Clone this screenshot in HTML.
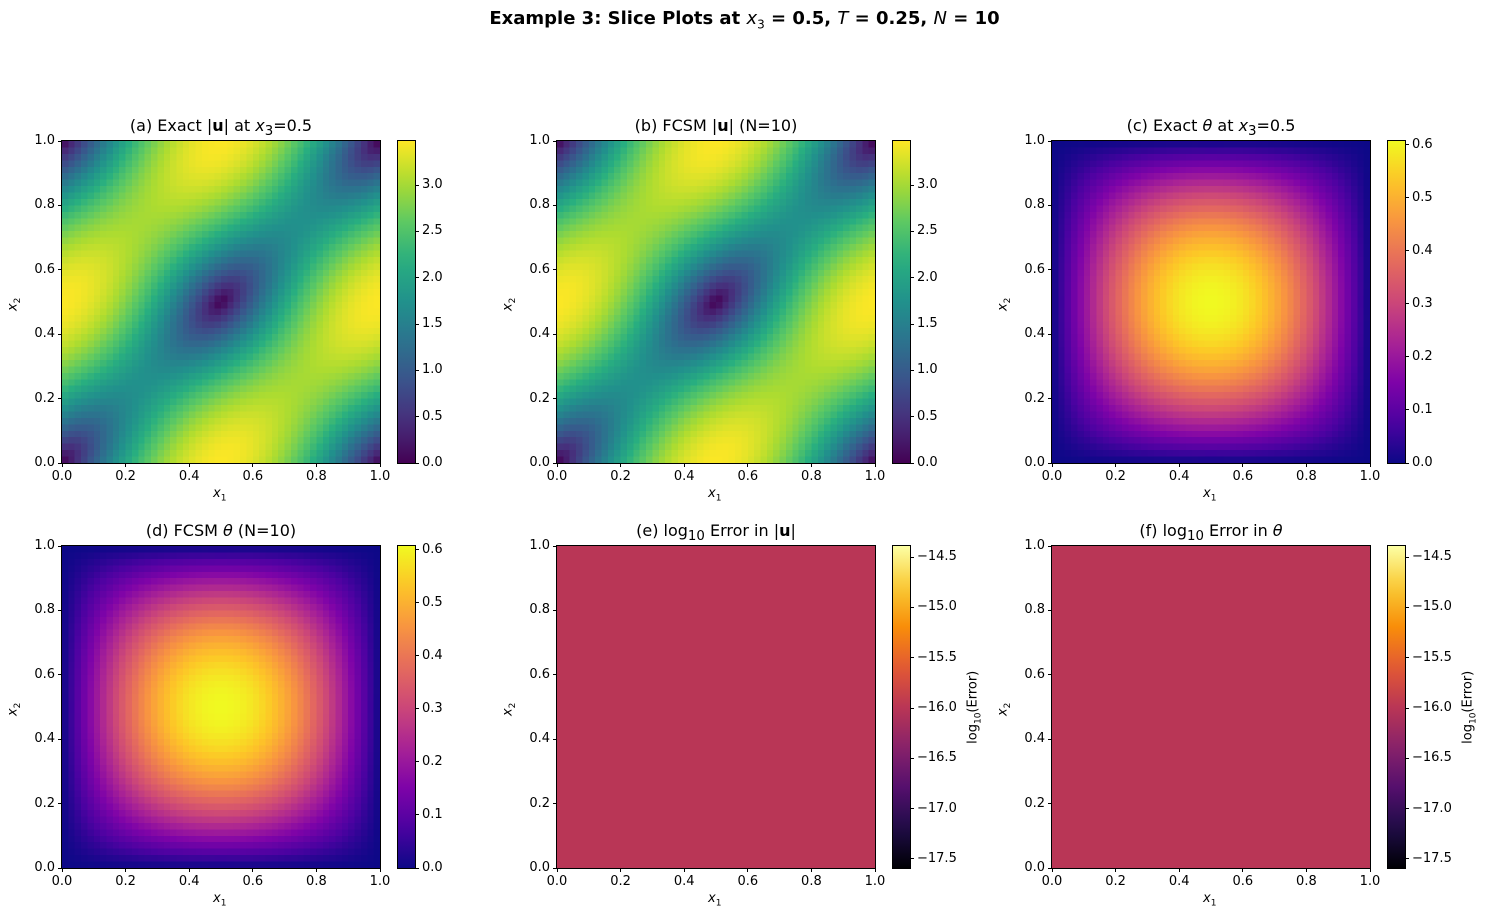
<!DOCTYPE html>
<html><head><meta charset="utf-8"><style>
body{margin:0;width:1489px;height:922px;background:#fff;position:relative;overflow:hidden;font-family:"DejaVu Sans","Liberation Sans",sans-serif;color:#000}
.a{position:absolute;white-space:nowrap;font-size:13px;line-height:1}
canvas{position:absolute;image-rendering:pixelated}
.box{position:absolute;border:1px solid #000;box-sizing:border-box}
.t{position:absolute;background:#000}
.ttl{position:absolute;font-size:16px;white-space:nowrap;transform:translateX(-50%);line-height:1}
</style></head><body>
<div class="a" style="left:0;width:1489px;text-align:center;top:10px;font-size:18px;font-weight:bold">Example 3: Slice Plots at <i style="font-weight:normal">x</i><sub style="font-size:12px;font-weight:normal">3</sub> = 0.5, <i style="font-weight:normal">T</i> = 0.25, <i style="font-weight:normal">N</i> = 10</div>
<div id="root"></div>
<script>
const V=['#440154','#472d7b','#3b528b','#2c728e','#21918c','#28ae80','#5ec962','#addc30','#fde725'];
const P=['#0d0887','#4c02a1','#7e03a8','#a92395','#cc4778','#e56b5d','#f89540','#fdc527','#f0f921'];
const I=['#000004','#1f0c48','#550f6d','#88226a','#ba3655','#e35933','#f98e09','#f9cb35','#fcffa4'];
function hx(h){return [1,3,5].map(i=>parseInt(h.substr(i,2),16));}
function cm(s,f){f=Math.max(0,Math.min(1,f));const n=s.length-1,p=f*n,i=Math.min(n-1,Math.floor(p)),t=p-i;const a=hx(s[i]),b=hx(s[i+1]);return a.map((v,k)=>Math.round(v+(b[k]-v)*t));}
const S=Math.sin,PI=Math.PI;
function uf(x,y){return Math.sqrt(6*(S(PI*x)**2*Math.cos(PI*y)**2+Math.cos(PI*x)**2*S(PI*y)**2)+6*S(PI*(x-y))**2);}
function th(x,y){return 0.607*S(PI*x)*S(PI*y);}
const root=document.getElementById('root');
function add(html){root.insertAdjacentHTML('beforeend',html);}
const W=318,H=322;
const panels=[
 {L:62,T:141,f:uf,c:V,lo:0,hi:3.477,ticks:[0,0.5,1,1.5,2,2.5,3],title:'(a) Exact |<b>u</b>| at <i>x</i><sub>3</sub>=0.5'},
 {L:557,T:141,f:uf,c:V,lo:0,hi:3.477,ticks:[0,0.5,1,1.5,2,2.5,3],title:'(b) FCSM |<b>u</b>| (N=10)'},
 {L:1052,T:141,f:th,c:P,lo:0,hi:0.607,ticks:[0,0.1,0.2,0.3,0.4,0.5,0.6],title:'(c) Exact <i>θ</i> at <i>x</i><sub>3</sub>=0.5'},
 {L:62,T:546,f:th,c:P,lo:0,hi:0.607,ticks:[0,0.1,0.2,0.3,0.4,0.5,0.6],title:'(d) FCSM <i>θ</i> (N=10)'},
 {L:557,T:546,f:()=>-16,c:I,lo:-17.59,hi:-14.39,ticks:[-17.5,-17,-16.5,-16,-15.5,-15,-14.5],title:'(e) log<sub>10</sub> Error in |<b>u</b>|',lab:1},
 {L:1052,T:546,f:()=>-16,c:I,lo:-17.59,hi:-14.39,ticks:[-17.5,-17,-16.5,-16,-15.5,-15,-14.5],title:'(f) log<sub>10</sub> Error in <i>θ</i>',lab:1}
];
panels.forEach((p,pi)=>{
 const N=50;const cv=document.createElement('canvas');cv.width=N;cv.height=N;
 cv.style.cssText=`left:${p.L}px;top:${p.T}px;width:${W}px;height:${H}px`;
 const g=cv.getContext('2d');const im=g.createImageData(N,N);
 for(let j=0;j<N;j++)for(let i=0;i<N;i++){const x=(i+0.5)/N,y=1-(j+0.5)/N;const c=cm(p.c,(p.f(x,y)-p.lo)/(p.hi-p.lo));const k=(j*N+i)*4;im.data[k]=c[0];im.data[k+1]=c[1];im.data[k+2]=c[2];im.data[k+3]=255;}
 g.putImageData(im,0,0);root.appendChild(cv);
 add(`<div class="box" style="left:${p.L-1}px;top:${p.T-1}px;width:${W+2}px;height:${H+2}px"></div>`);
 for(let k=0;k<=5;k++){const v=k*0.2,x=p.L+W*v,y=p.T+H-H*v;
  add(`<div class="t" style="left:${x-0.5}px;top:${p.T+H}px;width:1px;height:4px"></div>`);
  add(`<div class="a" style="left:${x-30}px;width:60px;text-align:center;top:${p.T+H+7}px">${v.toFixed(1)}</div>`);
  add(`<div class="t" style="left:${p.L-4}px;top:${y-0.5}px;width:4px;height:1px"></div>`);
  add(`<div class="a" style="left:${p.L-67}px;width:60px;text-align:right;top:${y-7}px">${v.toFixed(1)}</div>`);}
 add(`<div class="a" style="left:${p.L+W/2-8}px;top:${p.T+H+24}px;font-style:italic">x<sub style="font-size:9px;font-style:normal">1</sub></div>`);
 add(`<div class="a" style="left:${p.L-54}px;top:${p.T+H/2-6}px;transform:rotate(-90deg);font-style:italic">x<sub style="font-size:9px;font-style:normal">2</sub></div>`);
 add(`<div class="ttl" style="left:${p.L+W/2}px;top:${p.T-23}px">${p.title}</div>`);
 const cl=p.L+336,cw=17;
 let st=[];for(let k=0;k<=20;k++){const c=cm(p.c,k/20);st.push(`rgb(${c})`);}
 add(`<div style="position:absolute;left:${cl}px;top:${p.T}px;width:${cw}px;height:${H}px;background:linear-gradient(to top,${st.join(',')})"></div>`);
 add(`<div class="box" style="left:${cl-1}px;top:${p.T-1}px;width:${cw+2}px;height:${H+2}px"></div>`);
 p.ticks.forEach(v=>{const y=p.T+H-(v-p.lo)/(p.hi-p.lo)*H;
  add(`<div class="t" style="left:${cl+cw}px;top:${y-0.5}px;width:4px;height:1px"></div>`);
  add(`<div class="a" style="left:${cl+cw+7}px;top:${y-7}px">${v<0?'−'+(-v).toFixed(1):v.toFixed(1)}</div>`);});
 if(p.lab)add(`<div class="a" style="left:${cl+82-60}px;top:${p.T+H/2-8}px;width:120px;text-align:center;transform:rotate(-90deg)">log<sub style="font-size:9px">10</sub>(Error)</div>`);
});
</script>
</body></html>
